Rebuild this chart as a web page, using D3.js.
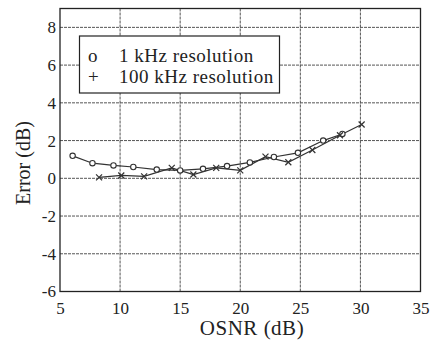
<!DOCTYPE html>
<html><head><meta charset="utf-8">
<script src="https://cdn.jsdelivr.net/npm/d3@7"></script>
<style>body{margin:0;background:#fff;}svg text{font-family:"Liberation Serif","Times New Roman","DejaVu Serif","Liberation Sans",serif;}</style>
</head><body>
<svg id="c" width="433" height="345"></svg>
<script>
const xTicks = [5,10,15,20,25,30,35];
const yTicks = [-6,-4,-2,0,2,4,6,8];
const osnr1k = [6.05,7.7,9.45,11.1,13.05,15.0,16.9,18.9,20.8,22.8,24.8,26.9,28.5];
const err1k  = [1.19,0.8,0.68,0.6,0.46,0.42,0.5,0.65,0.84,1.13,1.35,2.0,2.35];
const osnr100k = [8.25,10.1,12.0,14.3,16.1,18.0,20.0,22.1,24.0,26.0,28.3,30.1];
const err100k  = [0.05,0.15,0.1,0.55,0.2,0.55,0.42,1.15,0.85,1.5,2.28,2.85];
const legendLabels = ["1 kHz resolution","100 kHz resolution"];
const legendSymbols = ["o","+"];
const xLabel = "OSNR (dB)", yLabel = "Error (dB)";

const FF = '"Liberation Serif","Times New Roman","DejaVu Serif","Liberation Sans",serif';
const svg = d3.select("#c");
const L=60,R=420.5,T=8.5,B=291.5;
const x = d3.scaleLinear().domain([5,35]).range([L,R]);
const y = d3.scaleLinear().domain([-6,9]).range([B,T]);
const ink="#222";

// grid
const g = svg.append("g");
g.selectAll(".vg").data(xTicks.slice(1,-1)).join("line")
  .attr("x1",d=>x(d)).attr("x2",d=>x(d)).attr("y1",T).attr("y2",B)
  .attr("stroke","#555").attr("stroke-width",1).attr("stroke-dasharray","3,1");
g.selectAll(".hg").data(yTicks.slice(1)).join("line")
  .attr("x1",L).attr("x2",R).attr("y1",d=>y(d)).attr("y2",d=>y(d))
  .attr("stroke","#555").attr("stroke-width",1).attr("stroke-dasharray","3,1");
// frame
svg.append("rect").attr("x",L).attr("y",T).attr("width",R-L).attr("height",B-T)
  .attr("fill","none").attr("stroke",ink).attr("stroke-width",1.3);

// axes
const xa = svg.append("g").attr("transform",`translate(0,${B})`)
  .call(d3.axisBottom(x).tickValues(xTicks).tickSize(0).tickPadding(10).tickFormat(d3.format("d")));
const ya = svg.append("g").attr("transform",`translate(${L},0)`)
  .call(d3.axisLeft(y).tickValues(yTicks).tickSize(0).tickPadding(4).tickFormat(d=>d<0?"-"+Math.abs(d):d));
[xa,ya].forEach(a=>{a.select(".domain").remove(); a.attr("font-family",null).attr("font-size",null);
  a.selectAll("text").style("font-family",FF).style("font-size","17px").attr("fill",ink);});
xa.selectAll("text").attr("dy","0.72em");

svg.append("text").attr("x",252).attr("y",335).attr("text-anchor","middle")
  .style("font-family",FF).style("font-size","21px").style("letter-spacing","0.5px").attr("fill",ink).text(xLabel);
svg.append("text").attr("transform","translate(30,163) rotate(-90)").attr("text-anchor","middle")
  .style("font-family",FF).style("font-size","20px").attr("fill",ink).text(yLabel);

// series
const line = d3.line().x(d=>x(d[0])).y(d=>y(d[1]));
const s1 = osnr1k.map((v,i)=>[v,err1k[i]]);
const s2 = osnr100k.map((v,i)=>[v,err100k[i]]);
svg.append("path").datum(s1).attr("d",line).attr("fill","none").attr("stroke","#333").attr("stroke-width",1.2);
svg.append("path").datum(s2).attr("d",line).attr("fill","none").attr("stroke","#333").attr("stroke-width",1.2);
svg.selectAll(".c1").data(s1).join("circle").attr("cx",d=>x(d[0])).attr("cy",d=>y(d[1])).attr("r",2.7)
  .attr("fill","#fff").attr("stroke","#333").attr("stroke-width",1.1);
const cs=3;
svg.selectAll(".c2").data(s2).join("path")
  .attr("d",d=>`M${x(d[0])-cs},${y(d[1])-cs}L${x(d[0])+cs},${y(d[1])+cs}M${x(d[0])-cs},${y(d[1])+cs}L${x(d[0])+cs},${y(d[1])-cs}`)
  .attr("stroke","#333").attr("stroke-width",1.2);

// legend
svg.append("rect").attr("x",79.5).attr("y",36).attr("width",200).attr("height",57)
  .attr("fill","#fff").attr("stroke",ink).attr("stroke-width",1.2);
legendLabels.forEach((t,i)=>{
  svg.append("text").attr("x",88).attr("y",62+i*21).style("font-family",FF).style("font-size","19px").attr("fill",ink).text(legendSymbols[i]);
  svg.append("text").attr("x",119).attr("y",62+i*21).style("font-family",FF).style("font-size","19px").style("letter-spacing","0.5px").attr("fill",ink).text(t);
});
</script></body></html>
